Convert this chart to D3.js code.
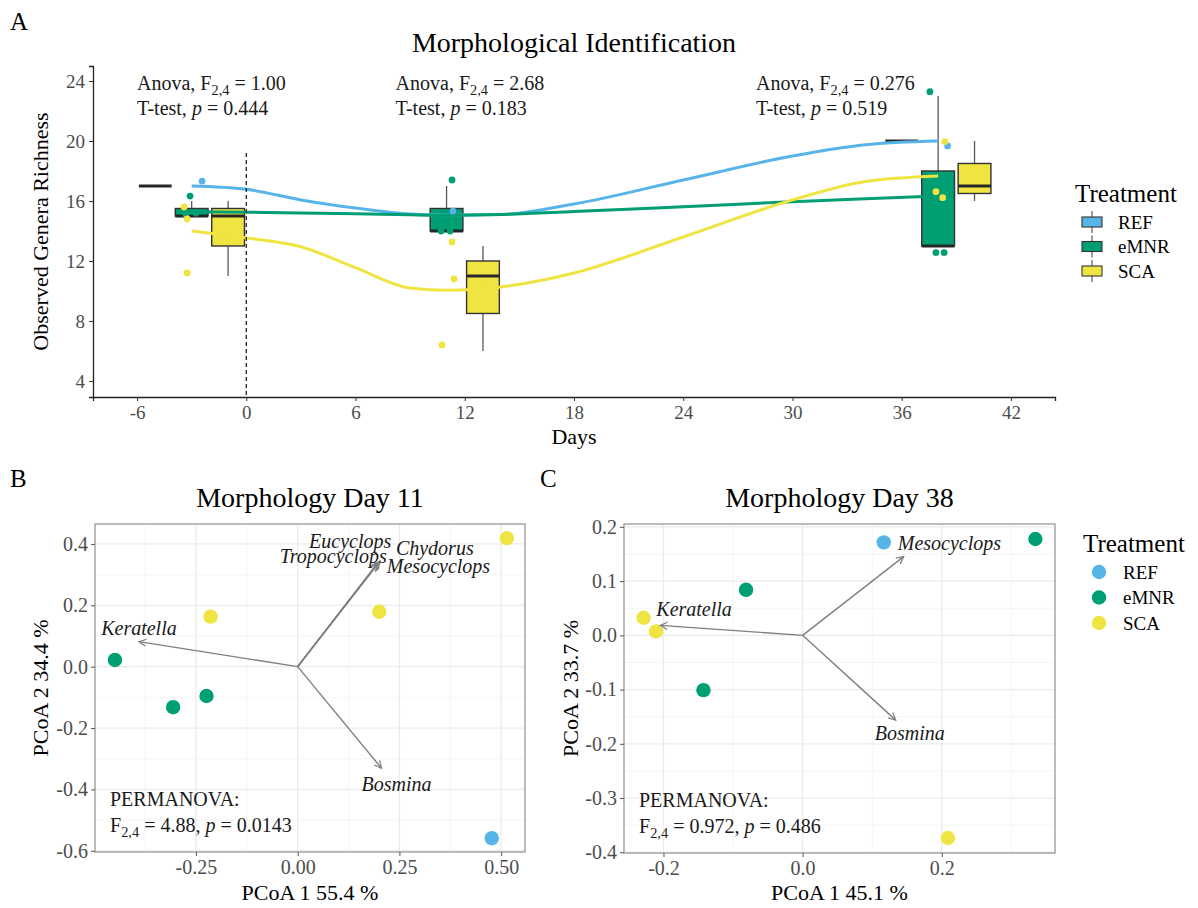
<!DOCTYPE html>
<html>
<head>
<meta charset="utf-8">
<script src="https://cdn.jsdelivr.net/npm/d3@7"></script>
<style>
body { margin: 0; background: #fff; }
svg text { font-family: "Liberation Serif", "Times New Roman", serif; }
</style>
</head>
<body>
<div id="chart"></div>
<script>
var treatments = ["REF", "eMNR", "SCA"];
var treatColors = ["#56B4E9", "#009E73", "#F0E442"];

// panel A: richness of the mesocosms behind each box
var boxDays = [-5, -3, -1, 11, 13, 36, 38, 40];
var boxGroups = ["REF", "eMNR", "SCA", "eMNR", "SCA", "REF", "eMNR", "SCA"];
var boxValues = [[17, 17, 17], [15, 15, 16], [11, 15, 16], [14, 14, 17], [6, 11, 13], [20, 20, 20], [13, 13, 23], [16, 17, 20]];

// jittered points, where they sit in the figure
var pointDays = [-2.43, -3.09, -2.76, -3.31, -3.42, -3.25, -3.25, 11.35, 11.3, 10.7, 11.19, 11.3, 11.41, 10.75, 38.52, 37.55, 37.88, 38.33, 38.37, 37.88, 38.25];
var pointValues = [17.33, 16.33, 15.2, 15.07, 15.6, 14.8, 11.2, 15.33, 17.4, 14.0, 14.0, 13.27, 10.8, 6.4, 19.67, 23.29, 12.55, 12.55, 19.96, 16.62, 16.22];
var pointGroups = ["REF", "eMNR", "eMNR", "eMNR", "SCA", "SCA", "SCA", "REF", "eMNR", "eMNR", "eMNR", "SCA", "SCA", "SCA", "REF", "eMNR", "eMNR", "eMNR", "SCA", "SCA", "SCA"];

// smoothed trends
var smoothDays = [-3, 0, 3, 6, 9, 11, 14, 18, 24, 30, 34, 38];
var smoothREF = [17.0, 16.78, 16.07, 15.53, 15.13, 15.07, 15.1, 15.8, 17.4, 19.0, 19.75, 20.0];
var smoothEMNR = [15.29, 15.25, 15.2, 15.15, 15.08, 15.05, 15.1, 15.3, 15.62, 15.95, 16.15, 16.33];
var smoothSCA = [14.0, 13.53, 12.95, 11.55, 10.2, 10.05, 10.27, 11.2, 13.6, 16.07, 17.3, 17.67];

var dayTicks = [-6, 0, 6, 12, 18, 24, 30, 36, 42];
var richTicks = [4, 8, 12, 16, 20, 24];

var annotDays = [-6, 8.2, 28];
var annotF = ["1.00", "2.68", "0.276"];
var annotP = ["0.444", "0.183", "0.519"];

// panel B: PCoA day 11
var b_x = [0.514, 0.2006, -0.214, -0.449, -0.306, -0.224, 0.477];
var b_y = [0.419, 0.179, 0.163, 0.022, -0.132, -0.0955, -0.559];
var b_group = ["SCA", "SCA", "SCA", "eMNR", "eMNR", "eMNR", "REF"];
var b_species = ["Eucyclops", "Tropocyclops", "Chydorus", "Mesocyclops", "Keratella", "Bosmina"];
var b_arrowX = [0.195, 0.197, 0.2, 0.202, -0.39, 0.206];
var b_arrowY = [0.335, 0.338, 0.34, 0.343, 0.0815, -0.331];
var b_labelX = [0.129, 0.0876, 0.337, 0.346, -0.39, 0.243];
var b_labelY = [0.408, 0.361, 0.388, 0.329, 0.125, -0.383];
var b_xTicks = [-0.25, 0, 0.25, 0.5];
var b_yTicks = [-0.6, -0.4, -0.2, 0, 0.2, 0.4];

// panel C: PCoA day 38
var c_x = [0.1166, 0.3345, -0.0813, -0.2285, -0.2108, -0.1425, 0.2088];
var c_y = [0.1715, 0.1777, 0.084, 0.0325, 0.0074, -0.101, -0.3737];
var c_group = ["REF", "eMNR", "eMNR", "SCA", "SCA", "eMNR", "SCA"];
var c_species = ["Mesocyclops", "Keratella", "Bosmina"];
var c_arrowX = [0.1452, -0.2046, 0.1338];
var c_arrowY = [0.1452, 0.0184, -0.1563];
var c_labelX = [0.211, -0.156, 0.154];
var c_labelY = [0.1697, 0.049, -0.18];
var c_xTicks = [-0.2, 0, 0.2];
var c_yTicks = [-0.4, -0.3, -0.2, -0.1, 0, 0.1, 0.2];

var width = 1198, height = 908;
var svg = d3.select("#chart").append("svg")
    .attr("width", width)
    .attr("height", height);

var color = d3.scaleOrdinal().domain(treatments).range(treatColors);

svg.append("defs").append("marker")
    .attr("id", "arrowhead")
    .attr("viewBox", "0 0 10 10")
    .attr("refX", 9).attr("refY", 5)
    .attr("markerWidth", 9).attr("markerHeight", 9)
    .attr("markerUnits", "userSpaceOnUse")
    .attr("orient", "auto")
    .append("path")
    .attr("d", "M1,1 L9,5 L1,9")
    .attr("fill", "none")
    .attr("stroke", "#7f7f7f")
    .attr("stroke-width", 1.4);

// text with F subscripts and italic p
function richText(g, x, y, parts, size, anchor) {
    let t = g.append("text")
        .attr("x", x).attr("y", y)
        .attr("font-size", size)
        .attr("fill", "#1a1a1a")
        .attr("text-anchor", anchor || "start");
    parts.forEach(function (p) {
        let s = t.append("tspan").text(p[0]);
        if (p[1] == "sub") s.attr("font-size", size * 0.72).attr("dy", 5);
        if (p[1] == "up") s.attr("dy", -5);
        if (p[1] == "it") s.attr("font-style", "italic");
    });
    return t;
}

// ---------------- panel A ----------------
var A = { left: 93, right: 1055, top: 66, bottom: 397 };
var xA = d3.scaleLinear().domain([-8.42, 44.42]).range([A.left, A.right]);
var yA = d3.scaleLinear().domain([2.93, 25.0]).range([A.bottom, A.top]);
var gA = svg.append("g");

svg.append("text").attr("x", 10).attr("y", 30).attr("font-size", 25).text("A");
svg.append("text").attr("x", (A.left + A.right) / 2).attr("y", 52)
    .attr("text-anchor", "middle").attr("font-size", 28).text("Morphological Identification");

var boxHalf = 0.9;
for (let i = 0; i < boxDays.length; i++) {
    let v = boxValues[i].slice().sort(d3.ascending);
    let q1 = d3.quantile(v, 0.25), med = d3.quantile(v, 0.5), q3 = d3.quantile(v, 0.75);
    let lo = d3.min(v), hi = d3.max(v);
    let x0 = xA(boxDays[i] - boxHalf), x1 = xA(boxDays[i] + boxHalf), xc = xA(boxDays[i]);
    gA.append("line").attr("x1", xc).attr("x2", xc).attr("y1", yA(hi)).attr("y2", yA(q3))
        .attr("stroke", "#595959").attr("stroke-width", 1.3);
    gA.append("line").attr("x1", xc).attr("x2", xc).attr("y1", yA(q1)).attr("y2", yA(lo))
        .attr("stroke", "#595959").attr("stroke-width", 1.3);
    gA.append("rect").attr("x", x0).attr("y", yA(q3))
        .attr("width", x1 - x0).attr("height", Math.max(0, yA(q1) - yA(q3)))
        .attr("fill", color(boxGroups[i])).attr("stroke", "#333").attr("stroke-width", 1.4);
    gA.append("line").attr("x1", x0).attr("x2", x1).attr("y1", yA(med)).attr("y2", yA(med))
        .attr("stroke", "#262626").attr("stroke-width", 3);
}

var smoothSeries = [smoothREF, smoothEMNR, smoothSCA];
var line = d3.line()
    .x(function (d, i) { return xA(smoothDays[i]); })
    .y(function (d) { return yA(d); })
    .curve(d3.curveMonotoneX);
smoothSeries.forEach(function (s, k) {
    gA.append("path").attr("d", line(s))
        .attr("fill", "none").attr("stroke", treatColors[k]).attr("stroke-width", 3);
});

for (let i = 0; i < pointDays.length; i++) {
    gA.append("circle").attr("cx", xA(pointDays[i])).attr("cy", yA(pointValues[i])).attr("r", 3.4)
        .attr("fill", color(pointGroups[i]));
}

gA.append("line").attr("x1", xA(0)).attr("x2", xA(0)).attr("y1", yA(19.2)).attr("y2", A.bottom)
    .attr("stroke", "#222").attr("stroke-width", 1.3).attr("stroke-dasharray", "4,3");

var axA = gA.append("g").attr("transform", "translate(0," + A.bottom + ")")
    .call(d3.axisBottom(xA).tickValues(dayTicks).tickSize(4).tickPadding(5).tickFormat(d3.format("d")));
var ayA = gA.append("g").attr("transform", "translate(" + A.left + ",0)")
    .call(d3.axisLeft(yA).tickValues(richTicks).tickSize(4).tickPadding(4));
[axA, ayA].forEach(function (ax) {
    ax.select(".domain").attr("stroke", "#222").attr("stroke-width", 1.3);
    ax.selectAll(".tick line").attr("stroke", "#333");
    ax.selectAll(".tick text").attr("font-size", 19).attr("fill", "#4d4d4d")
        .attr("font-family", "Liberation Serif, serif");
});
axA.selectAll(".tick text").text(function (d) { return d < 0 ? "-" + Math.abs(d) : d; });

gA.append("text").attr("x", (A.left + A.right) / 2).attr("y", 444)
    .attr("text-anchor", "middle").attr("font-size", 22).text("Days");
gA.append("text").attr("transform", "translate(48," + (A.top + A.bottom) / 2 + ") rotate(-90)")
    .attr("text-anchor", "middle").attr("font-size", 22).text("Observed Genera Richness");

for (let i = 0; i < annotDays.length; i++) {
    richText(gA, xA(annotDays[i]), 90, [["Anova, F", ""], ["2,4", "sub"], [" = " + annotF[i], "up"]], 20);
    richText(gA, xA(annotDays[i]), 115, [["T-test, ", ""], ["p", "it"], [" = " + annotP[i], ""]], 20);
}

// legend A
var legA = svg.append("g");
legA.append("text").attr("x", 1075).attr("y", 202).attr("font-size", 25).text("Treatment");
treatments.forEach(function (t, i) {
    let cy = 222 + i * 24.5;
    legA.append("line").attr("x1", 1092).attr("x2", 1092).attr("y1", cy - 11).attr("y2", cy + 11)
        .attr("stroke", "#595959").attr("stroke-width", 1.2);
    legA.append("rect").attr("x", 1082).attr("y", cy - 5).attr("width", 20).attr("height", 10)
        .attr("fill", treatColors[i]).attr("stroke", "#333").attr("stroke-width", 1.1);
    legA.append("text").attr("x", 1118).attr("y", cy + 6.5).attr("font-size", 19).text(t);
});

// ---------------- PCoA panels ----------------
function drawPCoA(o) {
    let g = svg.append("g");
    let x = d3.scaleLinear().domain(o.xDomain).range([o.left, o.right]);
    let y = d3.scaleLinear().domain(o.yDomain).range([o.bottom, o.top]);

    svg.append("text").attr("x", o.letterX).attr("y", 487).attr("font-size", 25).text(o.letter);
    g.append("text").attr("x", (o.left + o.right) / 2).attr("y", 507)
        .attr("text-anchor", "middle").attr("font-size", 28).text(o.title);

    let step = o.xTicks[1] - o.xTicks[0];
    let xMinor = o.xTicks.map(function (d) { return d - step / 2; }).concat([o.xTicks[o.xTicks.length - 1] + step / 2])
        .filter(function (d) { return d > o.xDomain[0] && d < o.xDomain[1]; });
    let ystep = o.yTicks[1] - o.yTicks[0];
    let yMinor = o.yTicks.map(function (d) { return d + ystep / 2; })
        .filter(function (d) { return d > o.yDomain[0] && d < o.yDomain[1]; });

    xMinor.forEach(function (d) {
        g.append("line").attr("x1", x(d)).attr("x2", x(d)).attr("y1", o.top).attr("y2", o.bottom)
            .attr("stroke", "#f2f2f2").attr("stroke-width", 0.8);
    });
    yMinor.forEach(function (d) {
        g.append("line").attr("y1", y(d)).attr("y2", y(d)).attr("x1", o.left).attr("x2", o.right)
            .attr("stroke", "#f2f2f2").attr("stroke-width", 0.8);
    });
    o.xTicks.forEach(function (d) {
        g.append("line").attr("x1", x(d)).attr("x2", x(d)).attr("y1", o.top).attr("y2", o.bottom)
            .attr("stroke", "#ebebeb").attr("stroke-width", 1.3);
    });
    o.yTicks.forEach(function (d) {
        g.append("line").attr("y1", y(d)).attr("y2", y(d)).attr("x1", o.left).attr("x2", o.right)
            .attr("stroke", "#ebebeb").attr("stroke-width", 1.3);
    });

    for (let i = 0; i < o.px.length; i++) {
        g.append("circle").attr("cx", x(o.px[i])).attr("cy", y(o.py[i])).attr("r", 7.2)
            .attr("fill", color(o.pg[i]));
    }

    for (let i = 0; i < o.species.length; i++) {
        g.append("line").attr("x1", x(0)).attr("y1", y(0))
            .attr("x2", x(o.ax[i])).attr("y2", y(o.ay[i]))
            .attr("stroke", "#7f7f7f").attr("stroke-width", 1.4)
            .attr("marker-end", "url(#arrowhead)");
    }
    for (let i = 0; i < o.species.length; i++) {
        g.append("text").attr("x", x(o.lx[i])).attr("y", y(o.ly[i]))
            .attr("dy", "0.35em").attr("text-anchor", "middle")
            .attr("font-size", 20).attr("font-style", "italic").attr("fill", "#1a1a1a")
            .text(o.species[i]);
    }

    g.append("rect").attr("x", o.left).attr("y", o.top)
        .attr("width", o.right - o.left).attr("height", o.bottom - o.top)
        .attr("fill", "none").attr("stroke", "#999").attr("stroke-width", 1.3);

    let ax = g.append("g").attr("transform", "translate(0," + o.bottom + ")")
        .call(d3.axisBottom(x).tickValues(o.xTicks).tickSize(4).tickPadding(4).tickFormat(o.xFormat));
    let ay = g.append("g").attr("transform", "translate(" + o.left + ",0)")
        .call(d3.axisLeft(y).tickValues(o.yTicks).tickSize(4).tickPadding(3).tickFormat(d3.format(".1f")));
    [ax, ay].forEach(function (a) {
        a.select(".domain").remove();
        a.selectAll(".tick line").attr("stroke", "#555");
        a.selectAll(".tick text").attr("font-size", 20).attr("fill", "#4d4d4d")
            .attr("font-family", "Liberation Serif, serif");
    });
    ax.selectAll(".tick text").text(function (d) { return o.xFormat(d).replace("−", "-"); });
    ay.selectAll(".tick text").text(function (d) { return d3.format(".1f")(d).replace("−", "-"); });

    g.append("text").attr("x", (o.left + o.right) / 2).attr("y", 900)
        .attr("text-anchor", "middle").attr("font-size", 22).text(o.xTitle);
    g.append("text").attr("transform", "translate(" + o.yTitleX + "," + (o.top + o.bottom) / 2 + ") rotate(-90)")
        .attr("text-anchor", "middle").attr("font-size", 22).text(o.yTitle);

    g.append("text").attr("x", o.left + 15).attr("y", o.bottom - 46).attr("font-size", 20)
        .attr("fill", "#1a1a1a").text("PERMANOVA:");
    richText(g, o.left + 15, o.bottom - 20,
        [["F", ""], ["2,4", "sub"], [" = " + o.permF + ", ", "up"], ["p", "it"], [" = " + o.permP, ""]], 20);
}

drawPCoA({
    letter: "B", letterX: 10, title: "Morphology Day 11",
    left: 95, right: 525, top: 524, bottom: 852,
    xDomain: [-0.498, 0.5586], yDomain: [-0.604, 0.465],
    xTicks: b_xTicks, yTicks: b_yTicks, xFormat: d3.format(".2f"),
    px: b_x, py: b_y, pg: b_group,
    species: b_species, ax: b_arrowX, ay: b_arrowY, lx: b_labelX, ly: b_labelY,
    xTitle: "PCoA 1 55.4 %", yTitle: "PCoA 2 34.4 %", yTitleX: 48,
    permF: "4.88", permP: "0.0143"
});

drawPCoA({
    letter: "C", letterX: 540, title: "Morphology Day 38",
    left: 624, right: 1055, top: 524, bottom: 853,
    xDomain: [-0.2567, 0.3627], yDomain: [-0.4013, 0.2053],
    xTicks: c_xTicks, yTicks: c_yTicks, xFormat: d3.format(".1f"),
    px: c_x, py: c_y, pg: c_group,
    species: c_species, ax: c_arrowX, ay: c_arrowY, lx: c_labelX, ly: c_labelY,
    xTitle: "PCoA 1 45.1 %", yTitle: "PCoA 2 33.7 %", yTitleX: 578,
    permF: "0.972", permP: "0.486"
});

// legend C
var legC = svg.append("g");
legC.append("text").attr("x", 1083).attr("y", 552).attr("font-size", 25).text("Treatment");
treatments.forEach(function (t, i) {
    let cy = 572 + i * 25.5;
    legC.append("circle").attr("cx", 1099).attr("cy", cy).attr("r", 7.2).attr("fill", treatColors[i]);
    legC.append("text").attr("x", 1123).attr("y", cy + 6.5).attr("font-size", 19).text(t);
});
</script>
</body>
</html>
